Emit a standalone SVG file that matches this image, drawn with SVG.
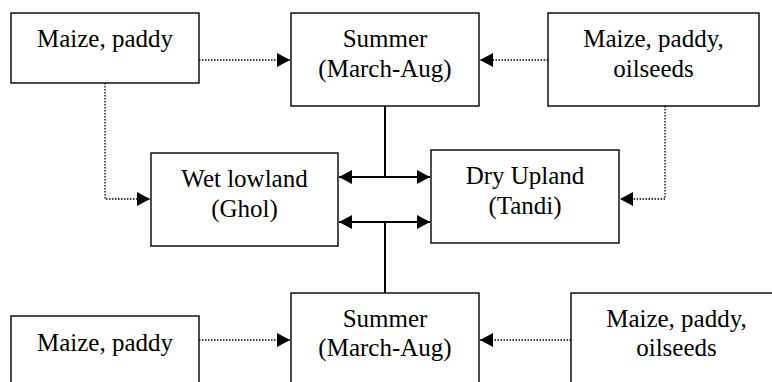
<svg xmlns="http://www.w3.org/2000/svg" width="772" height="382" viewBox="0 0 772 382">
  <style>
    .box { fill: #fff; stroke: #000; stroke-width: 1.4; }
    .lbl { font-family: "Liberation Serif", "Times New Roman", serif; font-size: 25px; fill: #000; text-anchor: middle; }
    .solid { fill: none; stroke: #000; stroke-width: 2; }
    .dot { fill: none; stroke: #000; stroke-width: 1.3; stroke-dasharray: 1.5 1.5; }
  </style>
  <defs>
    <marker id="arrow" markerUnits="userSpaceOnUse" markerWidth="14" markerHeight="14" refX="13" refY="7" orient="auto-start-reverse">
      <path d="M0,0 L13,7 L0,14 z" fill="#000"/>
    </marker>
  </defs>

  <rect width="772" height="382" fill="#fff"/>

  <!-- connectors -->
  <g id="connectors">
    <!-- solid links between seasons and land types -->
    <path class="solid" d="M385,106 V177"/>
    <path class="solid" d="M339,177 H430" marker-start="url(#arrow)" marker-end="url(#arrow)"/>
    <path class="solid" d="M339,222 H430" marker-start="url(#arrow)" marker-end="url(#arrow)"/>
    <path class="solid" d="M385,222 V293"/>
    <!-- dotted crop links -->
    <path class="dot" d="M199,60 H290" marker-end="url(#arrow)"/>
    <path class="dot" d="M548,60 H480" marker-end="url(#arrow)"/>
    <path class="dot" d="M105,83 V199 H150" marker-end="url(#arrow)"/>
    <path class="dot" d="M665,106 V199 H620" marker-end="url(#arrow)"/>
    <path class="dot" d="M199,340 H290" marker-end="url(#arrow)"/>
    <path class="dot" d="M571,340 H480" marker-end="url(#arrow)"/>
  </g>

  <g id="crops-top-left">
    <rect class="box" x="11" y="13" width="188" height="70"/>
    <text class="lbl" x="105" y="47">Maize, paddy</text>
  </g>

  <g id="summer-top">
    <rect class="box" x="291" y="13" width="188" height="93"/>
    <text class="lbl" x="385" y="47">Summer</text>
    <text class="lbl" x="385" y="77">(March-Aug)</text>
  </g>

  <g id="crops-top-right">
    <rect class="box" x="548" y="13" width="211" height="93"/>
    <text class="lbl" x="653.5" y="47">Maize, paddy,</text>
    <text class="lbl" x="653.5" y="77">oilseeds</text>
  </g>

  <g id="wet-lowland">
    <rect class="box" x="151" y="153" width="187" height="93"/>
    <text class="lbl" x="244.5" y="187">Wet lowland</text>
    <text class="lbl" x="244.5" y="217">(Ghol)</text>
  </g>

  <g id="dry-upland">
    <rect class="box" x="431" y="150" width="188" height="93"/>
    <text class="lbl" x="525" y="184">Dry Upland</text>
    <text class="lbl" x="525" y="214">(Tandi)</text>
  </g>

  <g id="summer-bottom">
    <rect class="box" x="291" y="293" width="188" height="100"/>
    <text class="lbl" x="385" y="327">Summer</text>
    <text class="lbl" x="385" y="356">(March-Aug)</text>
  </g>

  <g id="crops-bottom-left">
    <rect class="box" x="11" y="316" width="188" height="80"/>
    <text class="lbl" x="105" y="351">Maize, paddy</text>
  </g>

  <g id="crops-bottom-right">
    <rect class="box" x="571" y="293" width="211" height="100"/>
    <text class="lbl" x="676.5" y="327">Maize, paddy,</text>
    <text class="lbl" x="676.5" y="356">oilseeds</text>
  </g>
</svg>
